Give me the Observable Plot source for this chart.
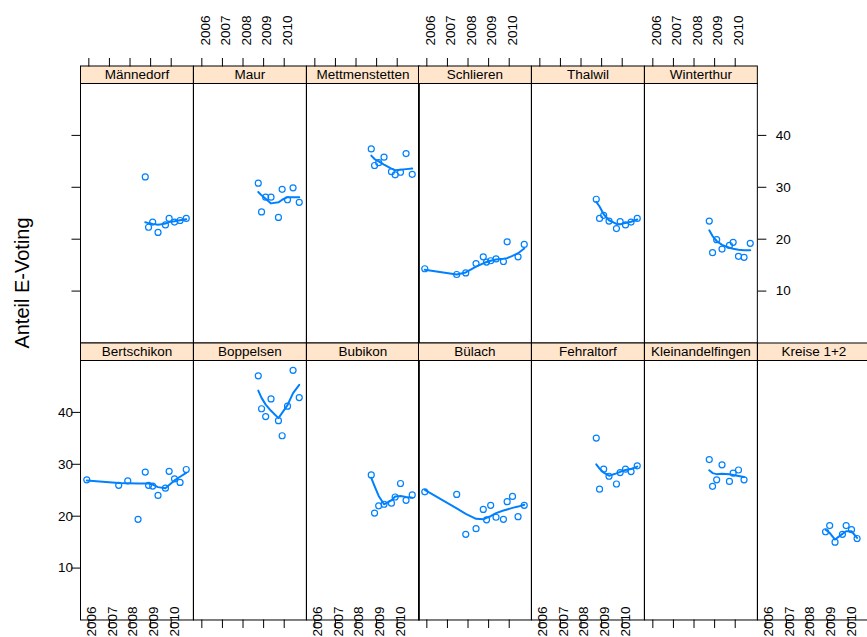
<!DOCTYPE html>
<html>
<head>
<meta charset="utf-8">
<script src="https://cdn.jsdelivr.net/npm/d3@7"></script>
<script src="https://cdn.jsdelivr.net/npm/@observablehq/plot@0.6"></script>
<style>
html, body { margin: 0; padding: 0; background: #fff; }
#chart { position: relative; width: 867px; height: 637px; overflow: hidden; background: #fff;
  font-family: "Liberation Sans", Arial, Helvetica, sans-serif; }
#ylab { position: absolute; left: 22px; top: 283px; transform: translate(-50%, -50%) rotate(-90deg);
  font-size: 20px; white-space: nowrap; color: #000; }
</style>
</head>
<body>
<div id="chart"><div id="ylab">Anteil E-Voting</div></div>
<script>
// ---- data ----
const voteDates = [2005.9, 2007.45, 2007.89, 2008.39, 2008.74, 2008.9, 2009.1, 2009.36, 2009.72, 2009.9, 2010.16, 2010.43, 2010.73];
const tickYears = [2006, 2007, 2008, 2009, 2010];
const shareTicks = [10, 20, 30, 40];
const topRowTowns = ["Männedorf", "Maur", "Mettmenstetten", "Schlieren", "Thalwil", "Winterthur"];
const bottomRowTowns = ["Bertschikon", "Boppelsen", "Bubikon", "Bülach", "Fehraltorf", "Kleinandelfingen", "Kreise 1+2"];
const _ = null;

// share of e-voting (points) and loess fit (line), per vote date
const shareMaennedorf = [_, _, _, _, 32.0, 22.3, 23.3, 21.3, 22.75, 24.0, 23.3, 23.6, 24.0];
const fitMaennedorf   = [_, _, _, _, 23.25, 23.1, 22.95, 22.8, 23.0, 23.3, 23.45, 23.65, 23.85];
const shareMaur = [_, _, _, _, 30.8, 25.25, 28.1, 28.1, 24.2, 29.6, 27.6, 29.9, 27.1];
const fitMaur   = [_, _, _, _, 29.1, 28.45, 27.8, 26.9, 27.1, 27.6, 28.1, 28.1, 28.1];
const shareMettmenstetten = [_, _, _, _, 37.4, 34.2, 34.75, 35.8, 33.0, 32.4, 32.9, 36.5, 32.5];
const fitMettmenstetten   = [_, _, _, _, 36.1, 35.45, 35.0, 34.35, 33.6, 33.3, 33.4, 33.5, 33.6];
const shareSchlieren = [14.3, 13.2, 13.5, 15.3, 16.6, 15.6, 15.85, 16.2, 15.7, 19.5, _, 16.6, 19.0];
const fitSchlieren   = [14.1, 13.2, 13.6, 14.7, 15.35, 15.6, 15.85, 16.1, 16.25, 16.35, 16.8, 17.3, 18.2];
const shareThalwil = [_, _, _, _, 27.7, 24.0, 24.6, 23.5, 22.05, 23.4, 22.75, 23.3, 24.0];
const fitThalwil   = [_, _, _, _, 27.2, 26.3, 24.8, 23.65, 22.95, 22.9, 23.1, 23.35, 23.8];
const shareWinterthur = [_, _, _, _, 23.5, 17.4, 19.9, 18.1, 18.8, 19.4, 16.7, 16.5, 19.2];
const fitWinterthur   = [_, _, _, _, 21.7, 20.6, 19.65, 18.9, 18.35, 18.15, 17.95, 17.85, 17.85];
const shareBertschikon = [27.0, 25.95, 26.8, 19.4, 28.5, 25.95, 25.8, 24.0, 25.4, 28.65, 27.2, 26.5, 29.0];
const fitBertschikon   = [26.9, 26.4, 26.35, 26.3, 26.3, 26.3, 26.1, 25.6, 25.4, 26.0, 26.9, 27.6, 28.35];
const shareBoppelsen = [_, _, _, _, 47.05, 40.7, 39.2, 42.6, 38.4, 35.5, 41.2, 48.1, 42.85];
const fitBoppelsen   = [_, _, _, _, 44.2, 42.8, 41.5, 40.3, 38.9, 39.9, 41.4, 43.7, 45.3];
const shareBubikon = [_, _, _, _, 27.95, 20.6, 22.0, 22.3, 22.5, 23.7, 26.3, 23.05, 24.1];
const fitBubikon   = [_, _, _, _, 27.4, 25.8, 23.9, 22.3, 23.05, 23.8, 23.9, 23.7, 23.55];
const shareBuelach = [24.7, 24.2, 16.5, 17.6, 21.3, 19.3, 22.1, 19.8, 19.4, 22.8, 23.8, 19.9, 22.1];
const fitBuelach   = [25.05, 21.5, 20.45, 19.5, 19.4, 19.7, 20.0, 20.6, 21.1, 21.3, 21.6, 21.85, 22.2];
const shareFehraltorf = [_, _, _, _, 35.05, 25.2, 29.05, 27.7, 26.2, 28.4, 29.05, 28.6, 29.7];
const fitFehraltorf   = [_, _, _, _, 30.0, 29.15, 28.4, 27.8, 28.25, 28.55, 28.9, 29.1, 29.55];
const shareKleinandelfingen = [_, _, _, _, 30.9, 25.75, 27.0, 29.9, 26.7, 28.3, 28.9, 27.0, _];
const fitKleinandelfingen   = [_, _, _, _, 28.85, 28.3, 28.1, 28.2, 28.1, 27.95, 27.75, 27.55, _];
const shareKreise12 = [_, _, _, _, _, 17.0, 18.2, 15.0, 16.5, 18.2, 17.4, 15.7, _];
const fitKreise12   = [_, _, _, _, _, 17.4, 16.8, 15.5, 16.6, 17.1, 17.1, 15.8, _];

const townSeries = new Map([
  ["Männedorf", [shareMaennedorf, fitMaennedorf]],
  ["Maur", [shareMaur, fitMaur]],
  ["Mettmenstetten", [shareMettmenstetten, fitMettmenstetten]],
  ["Schlieren", [shareSchlieren, fitSchlieren]],
  ["Thalwil", [shareThalwil, fitThalwil]],
  ["Winterthur", [shareWinterthur, fitWinterthur]],
  ["Bertschikon", [shareBertschikon, fitBertschikon]],
  ["Boppelsen", [shareBoppelsen, fitBoppelsen]],
  ["Bubikon", [shareBubikon, fitBubikon]],
  ["Bülach", [shareBuelach, fitBuelach]],
  ["Fehraltorf", [shareFehraltorf, fitFehraltorf]],
  ["Kleinandelfingen", [shareKleinandelfingen, fitKleinandelfingen]],
  ["Kreise 1+2", [shareKreise12, fitKreise12]]
]);

// ---- layout ----
const X_DOMAIN = [2005.595, 2011.075];
const Y_DOMAIN = [0, 50];
const COL0 = 79.8, COLW = 112.85, STRIP = 17.5, PH = 259.5;
const PANEL_TOP = [82.5, 359.5];
const M = {l: 50, r: 60, t: 80, b: 40};
const BLUE = "#0080ff";
const FONT = 13.5;
const chart = document.getElementById("chart");

function panel(name, row, col, nCols) {
  const [share, fit] = townSeries.get(name);
  const rows = voteDates.map((date, i) => ({date, share: share[i], fit: fit[i]}));
  const pts = rows.filter(d => d.share != null);
  const curve = rows.filter(d => d.fit != null);
  const marks = [
    Plot.frame({fill: "#ffe5cc", stroke: "black", insetBottom: PH - STRIP, dy: -STRIP}),
    Plot.text([name], {frameAnchor: "top", lineAnchor: "middle", dy: -STRIP / 2, text: d => d, fontSize: FONT, fill: "black"}),
    Plot.frame({stroke: "black"})
  ];
  if (row === 0) {
    marks.push(Plot.axisX({anchor: "top", ticks: tickYears, tickSize: 8.5, tickFormat: () => "", dy: -STRIP, label: null}));
    if (col % 2 === 1) {
      marks.push(Plot.text(tickYears, {x: d => d, text: d => String(d), frameAnchor: "top", lineAnchor: "middle", rotate: -90,
        textAnchor: "start", dy: -(STRIP + 8.5 + 12), dx: 3.5, fontSize: FONT, fill: "black"}));
    }
    if (col === 0) marks.push(Plot.axisY({anchor: "left", ticks: shareTicks, tickSize: 8.5, tickFormat: () => "", label: null}));
    if (col === nCols - 1) marks.push(Plot.axisY({anchor: "right", ticks: shareTicks, tickSize: 8.5, tickPadding: 10, fontSize: FONT, label: null}));
  } else {
    marks.push(Plot.axisX({anchor: "bottom", ticks: tickYears, tickSize: 8.5, tickFormat: () => "", label: null}));
    if (col % 2 === 0) {
      marks.push(Plot.text(tickYears, {x: d => d, text: d => String(d), frameAnchor: "bottom", lineAnchor: "middle", rotate: -90,
        textAnchor: "middle", dy: 1.5, dx: 3, fontSize: FONT, fill: "black"}));
    }
    if (col === 0) marks.push(Plot.axisY({anchor: "left", ticks: shareTicks, tickSize: 8.5, tickPadding: -1, fontSize: FONT, label: null}));
    if (col === nCols - 1) marks.push(Plot.axisY({anchor: "right", ticks: shareTicks, tickSize: 8.5, tickFormat: () => "", label: null}));
  }
  marks.push(Plot.dot(pts, {x: "date", y: "share", r: 3, stroke: BLUE, strokeWidth: 1.2, fill: "none"}));
  marks.push(Plot.line(curve, {x: "date", y: "fit", stroke: BLUE, strokeWidth: 2}));

  const svg = Plot.plot({
    width: COLW + M.l + M.r,
    height: PH + M.t + M.b,
    marginLeft: M.l, marginRight: M.r, marginTop: M.t, marginBottom: M.b,
    x: {domain: X_DOMAIN, axis: null},
    y: {domain: Y_DOMAIN, axis: null},
    style: {background: "none", overflow: "visible", fontFamily: '"Liberation Sans", Arial, Helvetica, sans-serif',
      fontSize: FONT + "px", color: "black", maxWidth: "none"},
    marks
  });
  svg.style.position = "absolute";
  svg.style.left = (COL0 + col * COLW - M.l) + "px";
  svg.style.top = (PANEL_TOP[row] - M.t) + "px";
  chart.appendChild(svg);
}

topRowTowns.forEach((t, i) => panel(t, 0, i, topRowTowns.length));
bottomRowTowns.forEach((t, i) => panel(t, 1, i, bottomRowTowns.length));
</script>
</body>
</html>
